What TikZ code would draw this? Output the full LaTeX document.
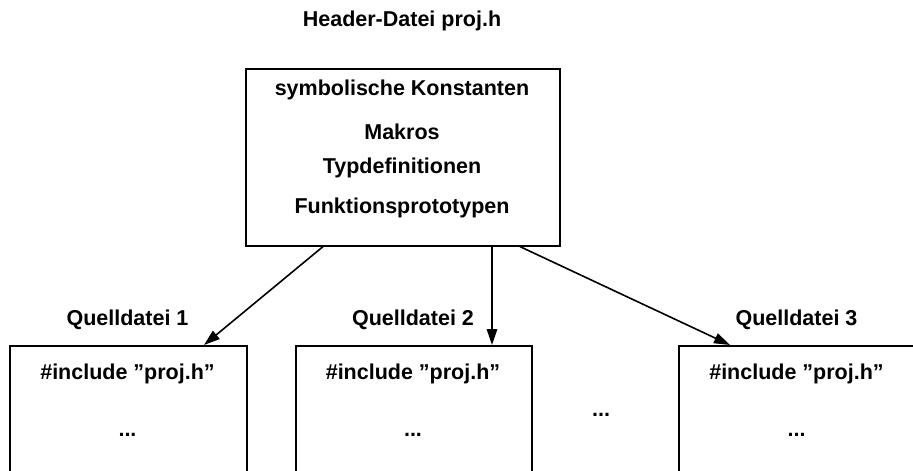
\documentclass[tikz,border=0pt]{standalone}
\usepackage{fontspec}
\setmainfont{Liberation Sans}
\usetikzlibrary{arrows.meta,calc}
\begin{document}
\begin{tikzpicture}[x=1pt,y=-1pt,
  lbl/.style={font=\bfseries\fontsize{21.5}{26}\selectfont, inner sep=0pt, anchor=base},
  frame/.style={draw, line width=1.6pt, inner sep=0pt, anchor=north west},
  link/.style={line width=1.6pt, -{Triangle[length=16pt,width=10.5pt]}}]
\useasboundingbox (0,0) rectangle (913,471);
\clip (0,0) rectangle (913,471);

% header file
\node[lbl] (title) at (402,26.5) {Header-Datei proj.h};
\node[frame, minimum width=314pt, minimum height=177pt] (hdr) at (245,68) {};
\node[lbl] (h1) at (402,95)  {symbolische Konstanten};
\node[lbl] (h2) at (402,139) {Makros};
\node[lbl] (h3) at (402,173) {Typdefinitionen};
\node[lbl] (h4) at (402,213) {Funktionsprototypen};

% source files (running past the lower and right edges)
\node[frame, minimum width=237pt, minimum height=150pt] (src1) at (9,345) {};
\node[frame, minimum width=236pt, minimum height=150pt] (src2) at (295,345) {};
\node[frame, minimum width=250pt, minimum height=150pt] (src3) at (678,345) {};

\node[lbl] (q1) at (127.5,325) {Quelldatei 1};
\node[lbl] (q2) at (413,325)   {Quelldatei 2};
\node[lbl] (q3) at (796.5,325) {Quelldatei 3};

\node[lbl] (i1) at (127.5,379) {\#include ”proj.h”};
\node[lbl] (i2) at (413,379)   {\#include ”proj.h”};
\node[lbl] (i3) at (796.5,379) {\#include ”proj.h”};

\node[lbl] (d1) at (127.5,436) {...};
\node[lbl] (d2) at (413,436)   {...};
\node[lbl] (d3) at (796.5,436) {...};
\node[lbl] (dm) at (601,416)   {...};

% include relations
\draw[link] ($(hdr.south west)+(78,0)$)  -- ($(src1.north west)+(195,0)$);
\draw[link] ($(hdr.south west)+(247,0)$) -- ($(src2.north west)+(197,0)$);
\draw[link] ($(hdr.south west)+(275,0)$) -- ($(src3.north west)+(52,0)$);
\end{tikzpicture}
\end{document}
